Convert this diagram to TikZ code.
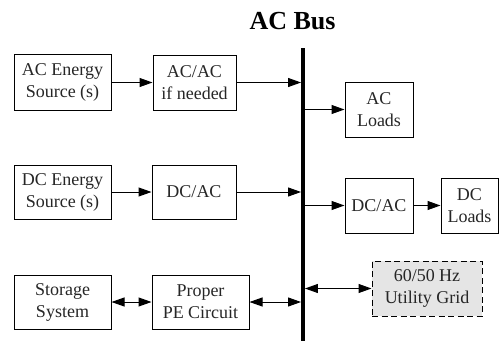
\documentclass[tikz,border=0pt]{standalone}
\usepackage{fontspec}
\setmainfont{Liberation Serif}
\usetikzlibrary{arrows.meta}
\begin{document}
\begin{tikzpicture}[x=1pt,y=-1pt,
  blk/.style={draw, line width=1pt, inner sep=0pt, align=center,
    font=\fontsize{18}{22}\selectfont, text=black!85},
  conn/.style={line width=1pt, -{Triangle[length=13pt,width=9pt]}},
  dconn/.style={line width=1pt, {Triangle[length=13pt,width=9pt]}-{Triangle[length=13pt,width=9pt]}}]
\useasboundingbox (0,0) rectangle (499,341);
\node[font=\bfseries\fontsize{26}{30}\selectfont] (title) at (292.5,21) {AC Bus};
\node[fill, minimum width=3.5pt, minimum height=293pt, inner sep=0pt] (bus) at (303,194.5) {};
\node[blk, minimum width=97pt, minimum height=56pt] (acs) at (62.5,82.5) {AC Energy\\Source (s)};
\node[blk, minimum width=83pt, minimum height=55pt] (acac) at (194.5,82.5) {AC/AC\\if needed};
\node[blk, minimum width=68pt, minimum height=55pt] (acl) at (379,109.5) {AC\\Loads};
\node[blk, minimum width=97pt, minimum height=54pt] (dcs) at (62.5,192) {DC Energy\\Source (s)};
\node[blk, minimum width=84pt, minimum height=54pt] (dcac1) at (194,192) {DC/AC};
\node[blk, minimum width=68pt, minimum height=55pt] (dcac2) at (379,205.5) {DC/AC};
\node[blk, minimum width=57pt, minimum height=55pt] (dcl) at (469.5,205.5) {DC\\Loads};
\node[blk, dash pattern=on 6pt off 3.5pt, fill=black!10, minimum width=110pt, minimum height=55pt] (grid) at (427,288.5) {60/50 Hz\\Utility Grid};
\node[blk, minimum width=97pt, minimum height=54pt] (sto) at (62.5,302) {Storage\\System};
\node[blk, minimum width=97pt, minimum height=54pt] (pe) at (200.5,302) {Proper\\PE Circuit};
\draw[conn] (acs.east) -- (acs.east -| acac.west);
\draw[conn] (acac.east) -- (acac.east -| bus.west);
\draw[conn] (bus.east |- acl.west) -- (acl.west);
\draw[conn] (dcs.east) -- (dcs.east -| dcac1.west);
\draw[conn] (dcac1.east) -- (dcac1.east -| bus.west);
\draw[conn] (bus.east |- dcac2.west) -- (dcac2.west);
\draw[conn] (dcac2.east) -- (dcac2.east -| dcl.west);
\draw[dconn] (sto.east) -- (sto.east -| pe.west);
\draw[dconn] (pe.east) -- (pe.east -| bus.west);
\draw[dconn] (bus.east |- grid.west) -- (grid.west);
\end{tikzpicture}
\end{document}
